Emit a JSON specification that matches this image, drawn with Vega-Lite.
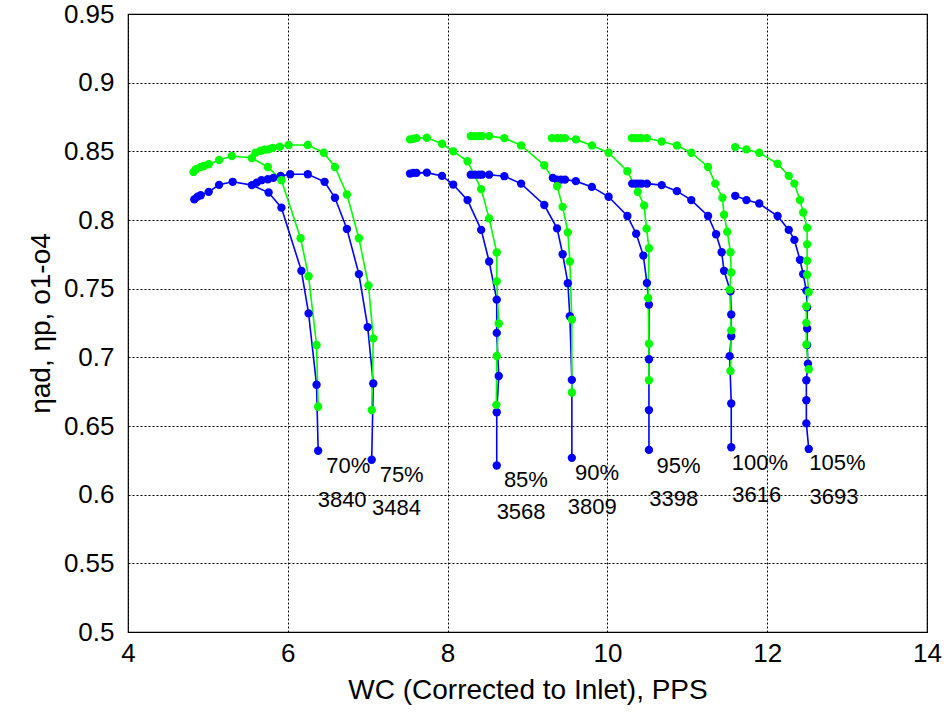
{
  "$schema": "https://vega.github.io/schema/vega-lite/v6.json",
  "width": 799,
  "height": 618,
  "autosize": {"type": "none"},
  "padding": {"left": 128, "top": 14, "right": 19, "bottom": 85},
  "background": "white",
  "config": {
    "font": "Liberation Sans",
    "view": {"stroke": "black", "strokeWidth": 1.2},
    "axis": {
      "grid": true, "gridColor": "black", "gridDash": [2, 2], "gridOpacity": 1, "gridWidth": 1,
      "domain": false, "ticks": false, "labelFlush": false,
      "labelFont": "Liberation Sans", "labelFontSize": 26, "labelColor": "black",
      "titleFont": "Liberation Sans", "titleFontSize": 28, "titleFontWeight": "normal", "titleColor": "black"
    }
  },
  "datasets": {
    "curves": [
      {"s":70,"t":"b","i":0,"x":4.83,"y":0.815},{"s":70,"t":"b","i":1,"x":4.87,"y":0.817},{"s":70,"t":"b","i":2,"x":4.91,"y":0.818},{"s":70,"t":"b","i":3,"x":5.01,"y":0.8205},{"s":70,"t":"b","i":4,"x":5.14,"y":0.8256},{"s":70,"t":"b","i":5,"x":5.31,"y":0.8278},{"s":70,"t":"b","i":6,"x":5.55,"y":0.8254},{"s":70,"t":"b","i":7,"x":5.76,"y":0.82},{"s":70,"t":"b","i":8,"x":5.92,"y":0.809},{"s":70,"t":"b","i":9,"x":6.17,"y":0.763},{"s":70,"t":"b","i":10,"x":6.26,"y":0.732},{"s":70,"t":"b","i":11,"x":6.36,"y":0.68},{"s":70,"t":"b","i":12,"x":6.38,"y":0.632},
      {"s":75,"t":"b","i":0,"x":5.61,"y":0.8272},{"s":75,"t":"b","i":1,"x":5.67,"y":0.829},{"s":75,"t":"b","i":2,"x":5.75,"y":0.8297},{"s":75,"t":"b","i":3,"x":5.82,"y":0.8307},{"s":75,"t":"b","i":4,"x":5.91,"y":0.8321},{"s":75,"t":"b","i":5,"x":6.03,"y":0.8333},{"s":75,"t":"b","i":6,"x":6.25,"y":0.8333},{"s":75,"t":"b","i":7,"x":6.46,"y":0.8278},{"s":75,"t":"b","i":8,"x":6.59,"y":0.8162},{"s":75,"t":"b","i":9,"x":6.74,"y":0.7935},{"s":75,"t":"b","i":10,"x":6.89,"y":0.7606},{"s":75,"t":"b","i":11,"x":7.0,"y":0.722},{"s":75,"t":"b","i":12,"x":7.07,"y":0.681},{"s":75,"t":"b","i":13,"x":7.05,"y":0.6254},
      {"s":85,"t":"b","i":0,"x":7.53,"y":0.8338},{"s":85,"t":"b","i":1,"x":7.57,"y":0.8343},{"s":85,"t":"b","i":2,"x":7.61,"y":0.8343},{"s":85,"t":"b","i":3,"x":7.74,"y":0.8345},{"s":85,"t":"b","i":4,"x":7.93,"y":0.8321},{"s":85,"t":"b","i":5,"x":8.07,"y":0.8258},{"s":85,"t":"b","i":6,"x":8.25,"y":0.8145},{"s":85,"t":"b","i":7,"x":8.42,"y":0.7928},{"s":85,"t":"b","i":8,"x":8.52,"y":0.7698},{"s":85,"t":"b","i":9,"x":8.615,"y":0.742},{"s":85,"t":"b","i":10,"x":8.615,"y":0.7178},{"s":85,"t":"b","i":11,"x":8.64,"y":0.6864},{"s":85,"t":"b","i":12,"x":8.615,"y":0.66},{"s":85,"t":"b","i":13,"x":8.615,"y":0.6212},
      {"s":90,"t":"b","i":0,"x":8.29,"y":0.833},{"s":90,"t":"b","i":1,"x":8.34,"y":0.833},{"s":90,"t":"b","i":2,"x":8.39,"y":0.833},{"s":90,"t":"b","i":3,"x":8.43,"y":0.833},{"s":90,"t":"b","i":4,"x":8.52,"y":0.833},{"s":90,"t":"b","i":5,"x":8.71,"y":0.8319},{"s":90,"t":"b","i":6,"x":8.92,"y":0.8265},{"s":90,"t":"b","i":7,"x":9.21,"y":0.8109},{"s":90,"t":"b","i":8,"x":9.37,"y":0.7939},{"s":90,"t":"b","i":9,"x":9.44,"y":0.7751},{"s":90,"t":"b","i":10,"x":9.505,"y":0.754},{"s":90,"t":"b","i":11,"x":9.53,"y":0.7299},{"s":90,"t":"b","i":12,"x":9.555,"y":0.6836},{"s":90,"t":"b","i":13,"x":9.555,"y":0.6268},
      {"s":95,"t":"b","i":0,"x":9.317,"y":0.8307},{"s":95,"t":"b","i":1,"x":9.37,"y":0.8294},{"s":95,"t":"b","i":2,"x":9.42,"y":0.8294},{"s":95,"t":"b","i":3,"x":9.47,"y":0.8294},{"s":95,"t":"b","i":4,"x":9.605,"y":0.8283},{"s":95,"t":"b","i":5,"x":9.806,"y":0.8241},{"s":95,"t":"b","i":6,"x":10.015,"y":0.8169},{"s":95,"t":"b","i":7,"x":10.25,"y":0.8029},{"s":95,"t":"b","i":8,"x":10.36,"y":0.79},{"s":95,"t":"b","i":9,"x":10.45,"y":0.7741},{"s":95,"t":"b","i":10,"x":10.495,"y":0.7541},{"s":95,"t":"b","i":11,"x":10.52,"y":0.7384},{"s":95,"t":"b","i":12,"x":10.52,"y":0.6986},{"s":95,"t":"b","i":13,"x":10.52,"y":0.6616},{"s":95,"t":"b","i":14,"x":10.52,"y":0.6326},
      {"s":100,"t":"b","i":0,"x":10.31,"y":0.8265},{"s":100,"t":"b","i":1,"x":10.35,"y":0.8265},{"s":100,"t":"b","i":2,"x":10.39,"y":0.8265},{"s":100,"t":"b","i":3,"x":10.43,"y":0.8265},{"s":100,"t":"b","i":4,"x":10.495,"y":0.8265},{"s":100,"t":"b","i":5,"x":10.68,"y":0.8254},{"s":100,"t":"b","i":6,"x":10.87,"y":0.821},{"s":100,"t":"b","i":7,"x":11.05,"y":0.8145},{"s":100,"t":"b","i":8,"x":11.26,"y":0.8029},{"s":100,"t":"b","i":9,"x":11.36,"y":0.7896},{"s":100,"t":"b","i":10,"x":11.43,"y":0.7765},{"s":100,"t":"b","i":11,"x":11.46,"y":0.763},{"s":100,"t":"b","i":12,"x":11.54,"y":0.748},{"s":100,"t":"b","i":13,"x":11.55,"y":0.7312},{"s":100,"t":"b","i":14,"x":11.55,"y":0.7154},{"s":100,"t":"b","i":15,"x":11.53,"y":0.7009},{"s":100,"t":"b","i":16,"x":11.55,"y":0.6664},{"s":100,"t":"b","i":17,"x":11.55,"y":0.6345},
      {"s":105,"t":"b","i":0,"x":11.6,"y":0.8176},{"s":105,"t":"b","i":1,"x":11.74,"y":0.8145},{"s":105,"t":"b","i":2,"x":11.9,"y":0.812},{"s":105,"t":"b","i":3,"x":12.13,"y":0.8029},{"s":105,"t":"b","i":4,"x":12.27,"y":0.7928},{"s":105,"t":"b","i":5,"x":12.34,"y":0.7855},{"s":105,"t":"b","i":6,"x":12.41,"y":0.771},{"s":105,"t":"b","i":7,"x":12.45,"y":0.7606},{"s":105,"t":"b","i":8,"x":12.49,"y":0.7486},{"s":105,"t":"b","i":9,"x":12.5,"y":0.7364},{"s":105,"t":"b","i":10,"x":12.5,"y":0.721},{"s":105,"t":"b","i":11,"x":12.5,"y":0.7089},{"s":105,"t":"b","i":12,"x":12.51,"y":0.6954},{"s":105,"t":"b","i":13,"x":12.49,"y":0.6833},{"s":105,"t":"b","i":14,"x":12.49,"y":0.6688},{"s":105,"t":"b","i":15,"x":12.49,"y":0.6519},{"s":105,"t":"b","i":16,"x":12.52,"y":0.6333},
      {"s":70,"t":"g","i":0,"x":4.82,"y":0.835},{"s":70,"t":"g","i":1,"x":4.85,"y":0.837},{"s":70,"t":"g","i":2,"x":4.91,"y":0.8386},{"s":70,"t":"g","i":3,"x":4.95,"y":0.8393},{"s":70,"t":"g","i":4,"x":5.01,"y":0.8406},{"s":70,"t":"g","i":5,"x":5.14,"y":0.8437},{"s":70,"t":"g","i":6,"x":5.3,"y":0.8466},{"s":70,"t":"g","i":7,"x":5.55,"y":0.8451},{"s":70,"t":"g","i":8,"x":5.75,"y":0.8386},{"s":70,"t":"g","i":9,"x":5.92,"y":0.829},{"s":70,"t":"g","i":10,"x":6.16,"y":0.7867},{"s":70,"t":"g","i":11,"x":6.26,"y":0.759},{"s":70,"t":"g","i":12,"x":6.36,"y":0.709},{"s":70,"t":"g","i":13,"x":6.38,"y":0.664},
      {"s":75,"t":"g","i":0,"x":5.595,"y":0.849},{"s":75,"t":"g","i":1,"x":5.66,"y":0.8504},{"s":75,"t":"g","i":2,"x":5.71,"y":0.8512},{"s":75,"t":"g","i":3,"x":5.76,"y":0.8514},{"s":75,"t":"g","i":4,"x":5.81,"y":0.8524},{"s":75,"t":"g","i":5,"x":5.9,"y":0.8533},{"s":75,"t":"g","i":6,"x":6.01,"y":0.8546},{"s":75,"t":"g","i":7,"x":6.25,"y":0.8546},{"s":75,"t":"g","i":8,"x":6.45,"y":0.849},{"s":75,"t":"g","i":9,"x":6.59,"y":0.8386},{"s":75,"t":"g","i":10,"x":6.74,"y":0.8186},{"s":75,"t":"g","i":11,"x":6.89,"y":0.7867},{"s":75,"t":"g","i":12,"x":7.01,"y":0.7524},{"s":75,"t":"g","i":13,"x":7.07,"y":0.7138},{"s":75,"t":"g","i":14,"x":7.05,"y":0.6616},
      {"s":85,"t":"g","i":0,"x":7.53,"y":0.8587},{"s":85,"t":"g","i":1,"x":7.57,"y":0.8591},{"s":85,"t":"g","i":2,"x":7.61,"y":0.8596},{"s":85,"t":"g","i":3,"x":7.74,"y":0.8599},{"s":85,"t":"g","i":4,"x":7.93,"y":0.8555},{"s":85,"t":"g","i":5,"x":8.07,"y":0.85},{"s":85,"t":"g","i":6,"x":8.25,"y":0.8428},{"s":85,"t":"g","i":7,"x":8.42,"y":0.8225},{"s":85,"t":"g","i":8,"x":8.52,"y":0.8012},{"s":85,"t":"g","i":9,"x":8.615,"y":0.7763},{"s":85,"t":"g","i":10,"x":8.615,"y":0.7553},{"s":85,"t":"g","i":11,"x":8.64,"y":0.7246},{"s":85,"t":"g","i":12,"x":8.615,"y":0.701},{"s":85,"t":"g","i":13,"x":8.61,"y":0.6654},
      {"s":90,"t":"g","i":0,"x":8.29,"y":0.8611},{"s":90,"t":"g","i":1,"x":8.34,"y":0.8611},{"s":90,"t":"g","i":2,"x":8.39,"y":0.8611},{"s":90,"t":"g","i":3,"x":8.43,"y":0.8611},{"s":90,"t":"g","i":4,"x":8.52,"y":0.8611},{"s":90,"t":"g","i":5,"x":8.71,"y":0.8596},{"s":90,"t":"g","i":6,"x":8.92,"y":0.8543},{"s":90,"t":"g","i":7,"x":9.21,"y":0.8399},{"s":90,"t":"g","i":8,"x":9.37,"y":0.8247},{"s":90,"t":"g","i":9,"x":9.44,"y":0.8096},{"s":90,"t":"g","i":10,"x":9.505,"y":0.791},{"s":90,"t":"g","i":11,"x":9.53,"y":0.7698},{"s":90,"t":"g","i":12,"x":9.555,"y":0.7275},{"s":90,"t":"g","i":13,"x":9.555,"y":0.6744},
      {"s":95,"t":"g","i":0,"x":9.305,"y":0.8596},{"s":95,"t":"g","i":1,"x":9.37,"y":0.8596},{"s":95,"t":"g","i":2,"x":9.42,"y":0.8596},{"s":95,"t":"g","i":3,"x":9.47,"y":0.8596},{"s":95,"t":"g","i":4,"x":9.605,"y":0.8587},{"s":95,"t":"g","i":5,"x":9.806,"y":0.8543},{"s":95,"t":"g","i":6,"x":10.015,"y":0.849},{"s":95,"t":"g","i":7,"x":10.25,"y":0.8355},{"s":95,"t":"g","i":8,"x":10.38,"y":0.8205},{"s":95,"t":"g","i":9,"x":10.46,"y":0.8106},{"s":95,"t":"g","i":10,"x":10.49,"y":0.7937},{"s":95,"t":"g","i":11,"x":10.52,"y":0.7794},{"s":95,"t":"g","i":12,"x":10.51,"y":0.7432},{"s":95,"t":"g","i":13,"x":10.52,"y":0.7099},{"s":95,"t":"g","i":14,"x":10.52,"y":0.6833},
      {"s":100,"t":"g","i":0,"x":10.307,"y":0.8596},{"s":100,"t":"g","i":1,"x":10.35,"y":0.8596},{"s":100,"t":"g","i":2,"x":10.39,"y":0.8596},{"s":100,"t":"g","i":3,"x":10.43,"y":0.8596},{"s":100,"t":"g","i":4,"x":10.495,"y":0.8596},{"s":100,"t":"g","i":5,"x":10.68,"y":0.8572},{"s":100,"t":"g","i":6,"x":10.87,"y":0.8543},{"s":100,"t":"g","i":7,"x":11.05,"y":0.849},{"s":100,"t":"g","i":8,"x":11.26,"y":0.8386},{"s":100,"t":"g","i":9,"x":11.35,"y":0.8265},{"s":100,"t":"g","i":10,"x":11.44,"y":0.8162},{"s":100,"t":"g","i":11,"x":11.46,"y":0.8038},{"s":100,"t":"g","i":12,"x":11.5,"y":0.7915},{"s":100,"t":"g","i":13,"x":11.54,"y":0.7765},{"s":100,"t":"g","i":14,"x":11.55,"y":0.7618},{"s":100,"t":"g","i":15,"x":11.53,"y":0.7493},{"s":100,"t":"g","i":16,"x":11.55,"y":0.7196},{"s":100,"t":"g","i":17,"x":11.54,"y":0.6901},
      {"s":105,"t":"g","i":0,"x":11.6,"y":0.8531},{"s":105,"t":"g","i":1,"x":11.74,"y":0.8514},{"s":105,"t":"g","i":2,"x":11.9,"y":0.849},{"s":105,"t":"g","i":3,"x":12.13,"y":0.841},{"s":105,"t":"g","i":4,"x":12.27,"y":0.8321},{"s":105,"t":"g","i":5,"x":12.34,"y":0.8265},{"s":105,"t":"g","i":6,"x":12.41,"y":0.8145},{"s":105,"t":"g","i":7,"x":12.45,"y":0.8055},{"s":105,"t":"g","i":8,"x":12.5,"y":0.7944},{"s":105,"t":"g","i":9,"x":12.5,"y":0.7823},{"s":105,"t":"g","i":10,"x":12.5,"y":0.7703},{"s":105,"t":"g","i":11,"x":12.5,"y":0.7601},{"s":105,"t":"g","i":12,"x":12.52,"y":0.7475},{"s":105,"t":"g","i":13,"x":12.49,"y":0.7372},{"s":105,"t":"g","i":14,"x":12.49,"y":0.7251},{"s":105,"t":"g","i":15,"x":12.49,"y":0.7094},{"s":105,"t":"g","i":16,"x":12.52,"y":0.6913}
    ],
    "labels": [
      {"x":6.757,"y":0.6212,"label":"70%"},{"x":6.68,"y":0.5959,"label":"3840"},
      {"x":7.425,"y":0.6141,"label":"75%"},{"x":7.36,"y":0.5901,"label":"3484"},
      {"x":8.98,"y":0.6105,"label":"85%"},{"x":8.92,"y":0.5872,"label":"3568"},
      {"x":9.87,"y":0.6157,"label":"90%"},{"x":9.81,"y":0.5908,"label":"3809"},
      {"x":10.89,"y":0.6212,"label":"95%"},{"x":10.83,"y":0.5966,"label":"3398"},
      {"x":11.91,"y":0.6234,"label":"100%"},{"x":11.87,"y":0.5995,"label":"3616"},
      {"x":12.88,"y":0.6227,"label":"105%"},{"x":12.835,"y":0.598,"label":"3693"}
    ]
  },
  "layer": [
    {
      "data": {"name": "curves"},
      "mark": {"type": "line", "strokeWidth": 1.6, "point": {"filled": true, "size": 70, "opacity": 1}},
      "encoding": {
        "x": {"field": "x", "type": "quantitative",
              "scale": {"domain": [4, 14], "nice": false, "zero": false},
              "axis": {"values": [4, 6, 8, 10, 12, 14], "format": "~g", "title": "WC (Corrected to Inlet), PPS", "labelPadding": 8, "titlePadding": 10}},
        "y": {"field": "y", "type": "quantitative",
              "scale": {"domain": [0.5, 0.95], "nice": false, "zero": false},
              "axis": {"values": [0.5, 0.55, 0.6, 0.65, 0.7, 0.75, 0.8, 0.85, 0.9, 0.95], "format": "~g", "title": "ηad, ηp, o1-o4", "labelPadding": 14, "titlePadding": 8}},
        "color": {"field": "t", "type": "nominal", "scale": {"domain": ["b", "g"], "range": ["#0000ff", "#00ff00"]}, "legend": null},
        "detail": {"field": "s", "type": "nominal"},
        "order": {"field": "i", "type": "quantitative"}
      }
    },
    {
      "data": {"name": "labels"},
      "mark": {"type": "text", "fontSize": 22, "font": "Liberation Sans", "color": "black", "align": "center", "baseline": "middle"},
      "encoding": {
        "x": {"field": "x", "type": "quantitative"},
        "y": {"field": "y", "type": "quantitative"},
        "text": {"field": "label", "type": "nominal"}
      }
    }
  ]
}
